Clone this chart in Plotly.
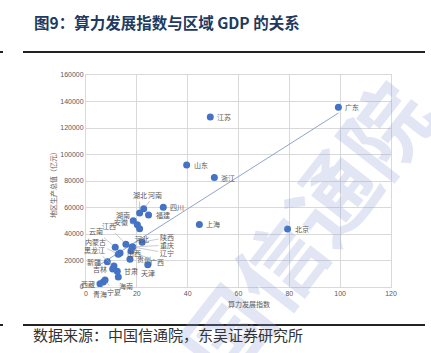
import numpy as np
import plotly.graph_objects as go

# ---------------- data ----------------
provinces = ["广东", "江苏", "山东", "浙江", "河南", "四川", "湖北", "福建", "湖南", "上海",
             "安徽", "河北", "北京", "陕西", "江西", "重庆", "辽宁", "云南", "广西", "山西",
             "内蒙古", "贵州", "新疆", "天津", "黑龙江", "吉林", "甘肃", "海南", "宁夏", "青海", "西藏"]
compute_index = [99.3, 48.9, 39.6, 50.5, 22.7, 30.4, 21.1, 24.6, 18.6, 44.6,
                 20.2, 21.1, 79.3, 22.1, 15.7, 18.1, 18.4, 11.5, 17.7, 13.4,
                 12.7, 17.3, 8.4, 24.3, 11.0, 10.5, 12.3, 12.7, 7.5, 6.8, 5.5]
gdp = [135673, 128222, 92069, 82553, 59132, 60133, 55804, 54355, 50013, 47219,
       47050, 43944, 43761, 33786, 32200, 30146, 30209, 30021, 27202, 25698,
       24627, 20913, 19126, 16737, 15884, 13531, 11864, 7551, 5315, 3799, 2393]
x_ticks = [0, 20, 40, 60, 80, 100, 120]
y_ticks = [0, 20000, 40000, 60000, 80000, 100000, 120000, 140000, 160000]

title_text = "图9：算力发展指数与区域 GDP 的关系"
source_text = "数据来源：中国信通院，东吴证券研究所"
x_title = "算力发展指数"
y_title = "地区生产总值（亿元）"
watermark = "中国信通院"

# label placement: (mode, dx, dy) in pixels relative to point
label_pos = {
    "湖北": ("arrow", 0, -18), "河南": ("arrow", 11, -14), "湖南": ("arrow", -10, -6),
    "安徽": ("arrow", -16, -3), "江西": ("arrow", -17, -18), "云南": ("arrow", -19, -16),
    "内蒙古": ("arrow", -23, -12), "黑龙江": ("arrow", -19, -16), "青海": ("arrow", -3, 12),
    "宁夏": ("arrow", 9, 12), "海南": ("arrow", 8, 9), "广西": ("arrow", 26, 11),
    "辽宁": ("arrow", 34, 6), "重庆": ("arrow", 35, -2), "陕西": ("arrow", 25, -5),
    "天津": ("arrow", 0, 8),
    "新疆": ("left", -4, 0), "吉林": ("left", -4, 0), "西藏": ("left", -3, 0),
    "河北": ("below", 2, 7),
}

W, H = 431, 353
L, R, T, B = 86, 391, 75, 287


def px(xp):
    return (xp - L) / (R - L)


def py(yp):
    return (B - yp) / (B - T)


fig = go.Figure()

# trend line (least squares fit)
xa = np.array(compute_index)
ya = np.array(gdp)
k, b0 = np.polyfit(xa, ya, 1)
xl = np.array([xa.min(), xa.max()])
fig.add_trace(go.Scatter(x=xl, y=k * xl + b0, mode="lines",
                         line=dict(color="#8FA4CF", width=1), hoverinfo="skip", showlegend=False))

fig.add_trace(go.Scatter(x=compute_index, y=gdp, mode="markers",
                         marker=dict(color="#4472C4", size=7), showlegend=False))

annotations = []
# watermark first (drawn beneath other annotations)
annotations.append(dict(x=px(276), y=py(262), xref="paper", yref="paper", text="<b>" + watermark + "</b>",
                        textangle=-52, showarrow=False, xanchor="center", yanchor="middle",
                        font=dict(family="Noto Sans CJK SC", size=86, color="rgba(150,165,215,0.28)")))

lab_font = dict(family="Noto Sans CJK SC", size=7, color="#595959")
for name, xv, yv in zip(provinces, compute_index, gdp):
    mode, dx, dy = label_pos.get(name, ("right", 5, 0))
    if mode == "arrow":
        annotations.append(dict(x=xv, y=yv, xref="x", yref="y", text=name, showarrow=True,
                                arrowhead=0, arrowwidth=0.6, arrowcolor="#A6A6A6",
                                ax=dx, ay=dy, standoff=3, font=lab_font))
    elif mode == "left":
        annotations.append(dict(x=xv, y=yv, xref="x", yref="y", text=name, showarrow=False,
                                xanchor="right", yanchor="middle", xshift=dx, yshift=-dy, font=lab_font))
    elif mode == "below":
        annotations.append(dict(x=xv, y=yv, xref="x", yref="y", text=name, showarrow=False,
                                xanchor="center", yanchor="top", xshift=dx, yshift=-3, font=lab_font))
    else:
        annotations.append(dict(x=xv, y=yv, xref="x", yref="y", text=name, showarrow=False,
                                xanchor="left", yanchor="middle", xshift=dx, yshift=-dy, font=lab_font))

# axis titles
annotations.append(dict(x=px(249), y=py(304), xref="paper", yref="paper", text=x_title,
                        showarrow=False, xanchor="center", yanchor="middle",
                        font=dict(family="Noto Sans CJK SC", size=7, color="#595959")))
annotations.append(dict(x=px(53), y=py(183), xref="paper", yref="paper", text=y_title,
                        textangle=-90, showarrow=False, xanchor="center", yanchor="middle",
                        font=dict(family="Noto Sans CJK SC", size=7, color="#595959")))
# title
annotations.append(dict(x=px(32), y=py(22.5), xref="paper", yref="paper", text="<b>" + title_text + "</b>",
                        xanchor="left", yanchor="middle", showarrow=False,
                        font=dict(family="Noto Sans CJK SC", size=15.5, color="#1F3A60")))
# source
annotations.append(dict(x=px(31), y=py(334), xref="paper", yref="paper", text=source_text,
                        xanchor="left", yanchor="middle", showarrow=False,
                        font=dict(family="Noto Sans CJK SC", size=15, color="#333333")))

shapes = [
    dict(type="line", xref="paper", yref="paper", x0=px(23), x1=px(425), y0=py(52), y1=py(52),
         line=dict(color="#222222", width=2)),
    dict(type="line", xref="paper", yref="paper", x0=px(0), x1=px(3), y0=py(52), y1=py(52),
         line=dict(color="#222222", width=2)),
    dict(type="line", xref="paper", yref="paper", x0=px(23), x1=px(425), y0=py(325), y1=py(325),
         line=dict(color="#222222", width=2)),
    dict(type="line", xref="paper", yref="paper", x0=px(0), x1=px(3), y0=py(325), y1=py(325),
         line=dict(color="#222222", width=2)),
]

axis_font = dict(family="Liberation Sans", size=7, color="#595959")
fig.update_layout(
    width=W, height=H,
    margin=dict(l=L, r=W - R, t=T, b=H - B),
    paper_bgcolor="white", plot_bgcolor="white",
    annotations=annotations, shapes=shapes,
    xaxis=dict(range=[0, 120], tickvals=x_ticks, showgrid=True, gridcolor="#D9D9D9", gridwidth=1,
               zeroline=False, showline=True, linecolor="#D9D9D9", mirror=True,
               tickfont=axis_font, ticks="", fixedrange=True),
    yaxis=dict(range=[0, 160000], tickvals=y_ticks, tickformat="d", showgrid=True,
               gridcolor="#D9D9D9", gridwidth=1, zeroline=False, showline=True,
               linecolor="#D9D9D9", mirror=True, tickfont=axis_font, ticks="", fixedrange=True),
    showlegend=False,
)

fig.write_html("out.html")
